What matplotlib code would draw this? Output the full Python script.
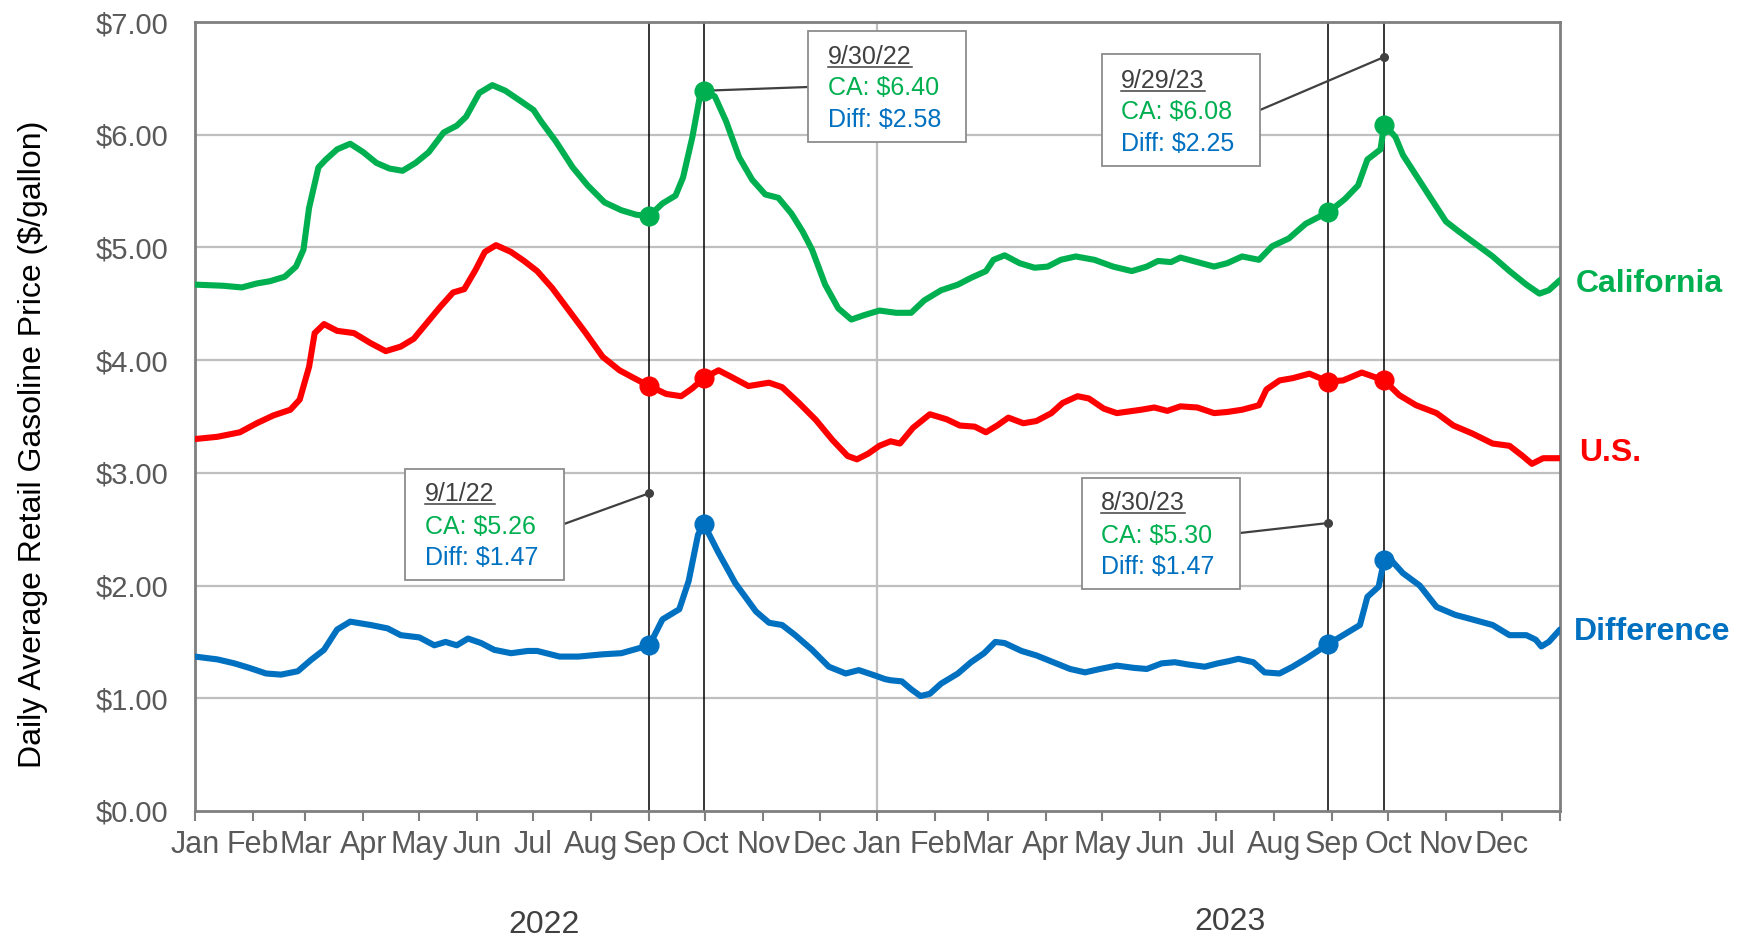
import numpy as np
import pandas as pd
import matplotlib
matplotlib.use('Agg')
import matplotlib.pyplot as plt
from matplotlib.patches import Rectangle
from matplotlib.lines import Line2D

plt.rcParams['font.family'] = ['Liberation Sans', 'DejaVu Sans']

# days counted from 1 Jan 2022
ca_days = [0, 15, 25, 33, 40, 48, 54, 58, 61, 66, 70, 76, 83, 90, 97, 104, 111, 118, 125, 133, 140, 145,
           152, 159, 166, 174, 181, 185, 193, 202, 210, 219, 228, 236, 243, 250, 257, 261, 266, 270, 272,
           278, 284, 291, 298, 305, 312, 319, 325, 330, 337, 344, 351, 358, 366, 375, 383, 390, 399, 408,
           415, 423, 427, 433, 441, 449, 456, 463, 471, 481, 491, 501, 509, 515, 522, 527, 536, 545, 552,
           560, 569, 576, 585, 594, 601, 606, 615, 622, 627, 634, 636, 642, 646, 653, 660, 669, 676, 685,
           694, 703, 712, 719, 724, 730]
ca_vals = [4.67, 4.66, 4.645, 4.68, 4.70, 4.74, 4.83, 4.98, 5.35, 5.71, 5.78, 5.87, 5.92, 5.845, 5.75, 5.70,
           5.68, 5.75, 5.845, 6.02, 6.08, 6.16, 6.37, 6.44, 6.39, 6.30, 6.22, 6.12, 5.94, 5.71, 5.55, 5.40,
           5.33, 5.29, 5.28, 5.39, 5.46, 5.62, 5.98, 6.34, 6.39, 6.34, 6.12, 5.80, 5.60, 5.47, 5.44, 5.30,
           5.14, 4.98, 4.67, 4.46, 4.36, 4.40, 4.44, 4.42, 4.42, 4.53, 4.62, 4.67, 4.73, 4.79, 4.89, 4.93,
           4.86, 4.82, 4.83, 4.89, 4.92, 4.89, 4.83, 4.79, 4.83, 4.88, 4.87, 4.91, 4.87, 4.83, 4.86, 4.92,
           4.89, 5.01, 5.08, 5.21, 5.27, 5.31, 5.43, 5.55, 5.78, 5.87, 6.09, 5.98, 5.82, 5.64, 5.46, 5.23,
           5.14, 5.03, 4.92, 4.79, 4.67, 4.59, 4.62, 4.71]

us_days = [0, 12, 24, 33, 42, 51, 56, 61, 64, 69, 76, 85, 94, 102, 110, 117, 124, 131, 138, 144, 150, 155,
           161, 169, 176, 183, 191, 200, 209, 218, 227, 236, 243, 252, 260, 266, 272, 280, 287, 296, 307,
           314, 323, 332, 341, 349, 354, 360, 366, 372, 377, 384, 393, 402, 409, 417, 423, 429, 435, 443,
           450, 458, 464, 472, 478, 486, 493, 506, 513, 520, 527, 536, 545, 552, 560, 569, 573, 580, 587,
           596, 606, 614, 624, 636, 644, 653, 664, 673, 683, 694, 703, 710, 715, 721, 730]
us_vals = [3.30, 3.32, 3.36, 3.44, 3.51, 3.56, 3.65, 3.94, 4.24, 4.32, 4.26, 4.24, 4.15, 4.08, 4.12, 4.19,
           4.33, 4.47, 4.60, 4.63, 4.80, 4.96, 5.02, 4.96, 4.88, 4.79, 4.64, 4.44, 4.24, 4.03, 3.91, 3.83,
           3.77, 3.70, 3.68, 3.75, 3.84, 3.91, 3.85, 3.77, 3.80, 3.76, 3.62, 3.47, 3.29, 3.15, 3.12, 3.17,
           3.24, 3.28, 3.26, 3.40, 3.52, 3.475, 3.42, 3.41, 3.36, 3.42, 3.49, 3.44, 3.46, 3.53, 3.62, 3.68,
           3.66, 3.57, 3.53, 3.56, 3.58, 3.55, 3.59, 3.58, 3.53, 3.54, 3.56, 3.60, 3.74, 3.82, 3.84, 3.88,
           3.81, 3.82, 3.89, 3.82, 3.69, 3.60, 3.53, 3.42, 3.35, 3.26, 3.24, 3.15, 3.08, 3.13, 3.13]

diff_days = [0, 12, 21, 29, 38, 46, 55, 62, 69, 76, 83, 94, 103, 110, 120, 128, 134, 140, 146, 153, 160,
             169, 178, 183, 195, 205, 218, 228, 243, 250, 259, 264, 269, 272, 280, 289, 300, 307, 314, 321,
             330, 339, 348, 355, 364, 369, 372, 378, 383, 388, 393, 399, 408, 415, 422, 428, 433, 442, 450,
             459, 468, 476, 484, 493, 502, 509, 517, 524, 531, 540, 547, 553, 558, 566, 572, 580, 587, 595,
             606, 614, 623, 627, 633, 636, 640, 646, 655, 664, 674, 683, 694, 703, 712, 717, 720, 724, 730]
diff_vals = [1.37, 1.345, 1.31, 1.27, 1.22, 1.21, 1.24, 1.34, 1.43, 1.61, 1.68, 1.65, 1.62, 1.56, 1.54,
             1.47, 1.50, 1.47, 1.53, 1.49, 1.43, 1.40, 1.42, 1.42, 1.37, 1.37, 1.39, 1.40, 1.47, 1.70, 1.79,
             2.04, 2.45, 2.55, 2.29, 2.02, 1.77, 1.67, 1.65, 1.56, 1.43, 1.28, 1.22, 1.25, 1.20, 1.17, 1.16,
             1.15, 1.08, 1.02, 1.04, 1.13, 1.22, 1.32, 1.40, 1.50, 1.49, 1.42, 1.38, 1.32, 1.26, 1.23, 1.26,
             1.29, 1.27, 1.26, 1.31, 1.32, 1.30, 1.28, 1.31, 1.33, 1.35, 1.32, 1.23, 1.22, 1.28, 1.36, 1.48,
             1.56, 1.65, 1.90, 1.99, 2.23, 2.22, 2.11, 2.00, 1.81, 1.74, 1.70, 1.65, 1.56, 1.56, 1.52, 1.46,
             1.50, 1.61]

# highlighted dates and the marker values on each series
mark_dates = ['2022-09-01', '2022-09-30', '2023-08-30', '2023-09-29']
mark_ca = [5.28, 6.39, 5.31, 6.09]
mark_us = [3.77, 3.84, 3.81, 3.82]
mark_diff = [1.47, 2.55, 1.48, 2.23]

note_dates = ['9/1/22', '9/30/22', '8/30/23', '9/29/23']
note_ca = ['CA: $5.26', 'CA: $6.40', 'CA: $5.30', 'CA: $6.08']
note_diff = ['Diff: $1.47', 'Diff: $2.58', 'Diff: $1.47', 'Diff: $2.25']
note_pins = [2.82, 6.39, 2.555, 6.69]

GREEN = '#00B050'
RED = '#FF0000'
BLUE = '#0070C0'
GRID = '#BFBFBF'
W, H = 1737, 940

start = pd.Timestamp('2022-01-01')


def to_dates(days):
    return start + pd.to_timedelta(np.array(days), unit='D')


fig = plt.figure(figsize=(W / 100, H / 100), dpi=100)
ax = fig.add_axes([195 / W, 1 - 811 / H, (1560 - 195) / W, (811 - 22) / H])

ax.set_ylim(0, 7)
ax.set_xlim(start, pd.Timestamp('2024-01-01'))
ax.set_yticks(range(8))
ax.set_yticklabels([f'${v:.2f}' for v in range(8)])
for v in range(1, 7):
    ax.axhline(v, color=GRID, lw=1.6, zorder=1)
ax.axvline(pd.Timestamp('2023-01-01'), color=GRID, lw=1.6, zorder=1)

month_ticks = pd.date_range('2022-01-01', '2024-01-01', freq='MS')
ax.set_xticks(month_ticks)
ax.set_xticklabels([d.strftime('%b') for d in month_ticks[:-1]] + [''])

ax.tick_params(axis='x', direction='out', length=7, width=1.5, color='#7F7F7F',
               labelsize=22, labelcolor='#595959', pad=7)
ax.tick_params(axis='y', length=0, labelsize=21, labelcolor='#595959', pad=19)
for s in ax.spines.values():
    s.set_color('#7F7F7F')
    s.set_linewidth(2)

for d in mark_dates:
    ax.axvline(pd.Timestamp(d), color='black', lw=1.1, zorder=2)

ax.plot(to_dates(ca_days), ca_vals, color=GREEN, lw=4.4, zorder=3, solid_capstyle='round')
ax.plot(to_dates(us_days), us_vals, color=RED, lw=4.4, zorder=3, solid_capstyle='round')
ax.plot(to_dates(diff_days), diff_vals, color=BLUE, lw=4.4, zorder=3, solid_capstyle='round')

md = pd.to_datetime(mark_dates)
ax.plot(md, mark_ca, 'o', color=GREEN, ms=13.5, zorder=4)
ax.plot(md, mark_us, 'o', color=RED, ms=13.5, zorder=4)
ax.plot(md, mark_diff, 'o', color=BLUE, ms=13.5, zorder=4)

# annotation boxes, in image pixels (top-left origin)
boxes = [(405, 469, 564, 580), (808, 31, 966, 142), (1082, 478, 1240, 589), (1102, 54, 1260, 166)]
text_x = [425, 828, 1101, 1121]
text_y = [(494, 527, 558), (57, 88, 120), (503, 536, 567), (81, 112, 144)]
anchors = [(564, 524), (808, 87), (1240, 533), (1260, 110)]

date_texts = []
for i in range(4):
    x0, y0, x1, y1 = boxes[i]
    fig.patches.append(Rectangle((x0 / W, 1 - y1 / H), (x1 - x0) / W, (y1 - y0) / H,
                                 transform=fig.transFigure, facecolor='white',
                                 edgecolor='#8C8C8C', lw=1.3, zorder=5))
    ty = text_y[i]
    t = fig.text(text_x[i] / W, 1 - ty[0] / H, note_dates[i], color='#404040', fontsize=18,
                 va='center', ha='left', zorder=6)
    date_texts.append(t)
    fig.text(text_x[i] / W, 1 - ty[1] / H, note_ca[i], color=GREEN, fontsize=18,
             va='center', ha='left', zorder=6)
    fig.text(text_x[i] / W, 1 - ty[2] / H, note_diff[i], color=BLUE, fontsize=18,
             va='center', ha='left', zorder=6)
    ax_, ay_ = anchors[i]
    ax.annotate('', xy=(md[i], note_pins[i]), xycoords='data', xytext=(ax_, H - ay_),
                textcoords='figure pixels', annotation_clip=False,
                arrowprops=dict(arrowstyle='-', color='#404040', lw=1.6, shrinkA=0, shrinkB=0))
    if i != 1:
        ax.plot(md[i], note_pins[i], 'o', color='#404040', ms=5.5, zorder=5)

# underline the dates in the boxes
fig.canvas.draw()
inv = fig.transFigure.inverted()
for t in date_texts:
    bb = t.get_window_extent()
    (fx0, fy0), (fx1, _) = inv.transform([(bb.x0, bb.y0 + 2), (bb.x1, bb.y0)])
    fig.add_artist(Line2D([fx0, fx1], [fy0, fy0], transform=fig.transFigure,
                          color='#404040', lw=1.1, zorder=6))

fig.text(33 / W, 1 - 444 / H, 'Daily Average Retail Gasoline Price ($/gallon)', rotation=90,
         ha='center', va='center', fontsize=23, color='black')
fig.text(544 / W, 1 - 925 / H, '2022', ha='center', va='center', fontsize=23, color='#404040')
fig.text(1230 / W, 1 - 922 / H, '2023', ha='center', va='center', fontsize=23, color='#404040')

fig.text(1576 / W, 1 - 284 / H, 'California', color=GREEN, fontsize=23, fontweight='bold', va='center')
fig.text(1579 / W, 1 - 453 / H, 'U.S.', color=RED, fontsize=23, fontweight='bold', va='center')
fig.text(1574 / W, 1 - 632 / H, 'Difference', color=BLUE, fontsize=23, fontweight='bold', va='center')

fig.savefig('out.png', dpi=100)
